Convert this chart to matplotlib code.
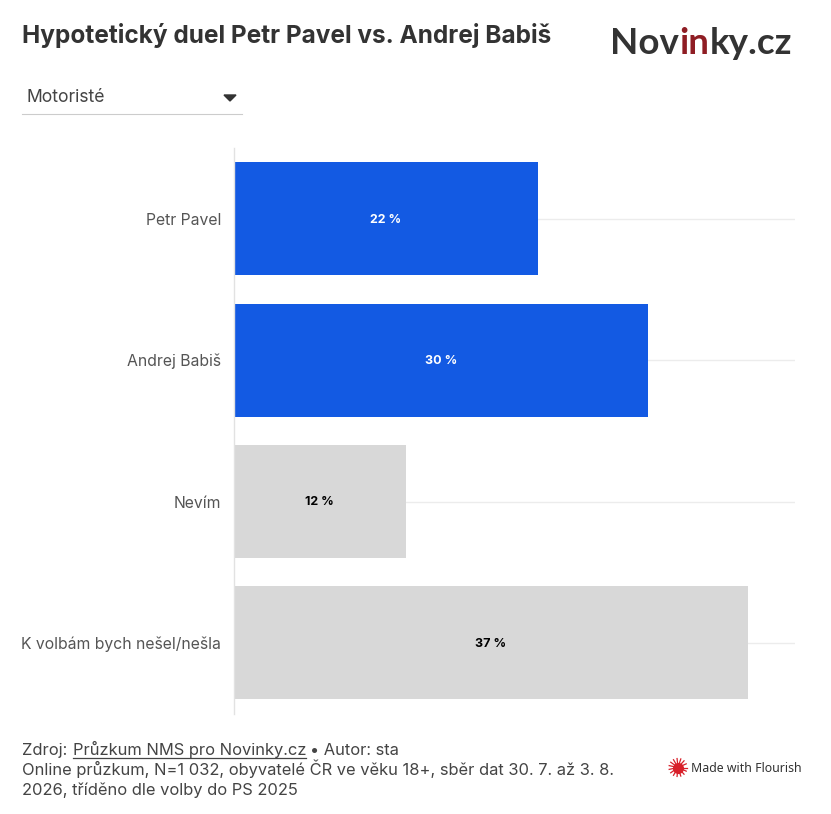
import matplotlib
matplotlib.use("Agg")
import matplotlib.pyplot as plt
import numpy as np

W, H = 831, 814

candidates = ["Petr Pavel", "Andrej Babiš", "Nevím", "K volbám bych nešel/nešla"]
shares = [21.95, 29.9, 12.4, 37.08]
bar_labels = ["22 %", "30 %", "12 %", "37 %"]
bar_colors = ["#135ae3", "#135ae3", "#d8d8d8", "#d8d8d8"]
label_colors = ["white", "white", "black", "black"]

plt.rcParams["font.family"] = ["Inter", "DejaVu Sans"]


def fx(px):
    return px / W


def fy(py):
    return 1 - py / H


fig = plt.figure(figsize=(W / 100, H / 100), dpi=100, facecolor="white")

# Plot area
ax = fig.add_axes([fx(233.7), fy(713.6), fx(795) - fx(233.7), (713.6 - 148) / H])
y = np.arange(len(candidates))
ax.hlines(y, 0, 40.5, color="#ececec", lw=1, zorder=1)
ax.barh(y, shares, height=0.8, color=bar_colors, zorder=2)
for i, txt in enumerate(bar_labels):
    ax.annotate(txt, (shares[i] / 2, i), xytext=(0, -0.7), textcoords="offset points",
                ha="center", va="center", fontsize=9, fontweight="bold",
                color=label_colors[i], zorder=3)

ax.set_xlim(0, 40.5)
ax.set_ylim(3.5, -0.5)
ax.set_yticks(y)
ax.set_yticklabels(candidates, fontsize=11.35, color="#555555", va="center_baseline")
ax.tick_params(axis="y", length=0, pad=9.2)
ax.set_xticks([])
for side in ["top", "right", "bottom"]:
    ax.spines[side].set_visible(False)
ax.spines["left"].set_color("#e2e2e2")
ax.spines["left"].set_linewidth(1)

# Header
fig.text(fx(22), fy(43), "Hypotetický duel Petr Pavel vs. Andrej Babiš",
         fontsize=17.58, fontweight="bold", color="#333333", va="baseline")

# Logo as text pieces
logo_style = dict(fontsize=26.5, fontweight="bold", va="baseline",
                  family=["Lato", "DejaVu Sans"])
renderer = fig.canvas.get_renderer()
x_pos = 610
for part, col in [("Nov", "#333333"), ("in", "#8f1d24"), ("ky.cz", "#333333")]:
    t = fig.text(fx(x_pos), fy(54), part, color=col, **logo_style)
    x_pos = t.get_window_extent(renderer).x1 + 0.5

# Dropdown
fig.text(fx(27), fy(102), "Motoristé", fontsize=12.65, color="#444444", va="baseline")
fig.add_artist(plt.Line2D([fx(22), fx(242)], [fy(113.5), fy(113.5)], color="#cccccc", lw=0.8))
fig.add_artist(plt.Polygon([[fx(224), fy(95)], [fx(236), fy(95)], [fx(230), fy(101)]],
                           closed=True, color="#333333", transform=fig.transFigure))

# Footer
foot = dict(fontsize=11.87, color="#444444", va="baseline")
t1 = fig.text(fx(22), fy(755), "Zdroj: ", **foot)
x1 = t1.get_window_extent(renderer).x1
t2 = fig.text(fx(x1 + 1), fy(755), "Průzkum NMS pro Novinky.cz", **foot)
x2 = t2.get_window_extent(renderer).x1
fig.add_artist(plt.Line2D([fx(x1 + 1), fx(x2)], [fy(758), fy(758)], color="#444444", lw=0.9))
fig.text(fx(x2 + 4), fy(755), "• Autor: sta", **foot)
fig.text(fx(22), fy(775), "Online průzkum, N=1 032, obyvatelé ČR ve věku 18+, sběr dat 30. 7. až 3. 8.", **foot)
fig.text(fx(22), fy(795), "2026, tříděno dle volby do PS 2025", **foot)

# Flourish badge
angles = np.deg2rad(np.arange(0, 360, 24))
for a in angles:
    fig.add_artist(plt.Line2D([fx(678), fx(678 + 9 * np.cos(a))],
                              [fy(767.5), fy(767.5 + 9 * np.sin(a))],
                              color="#d8202a", lw=0.9))
fig.add_artist(plt.Line2D([fx(678)], [fy(767.5)], marker="o", ms=8, color="#d8202a", mew=0))
fig.text(fx(691), fy(768), "Made with Flourish", fontsize=8.85, color="#333333", va="center",
         family=["Noto Sans", "DejaVu Sans"])

fig.savefig("out.png", dpi=100)
